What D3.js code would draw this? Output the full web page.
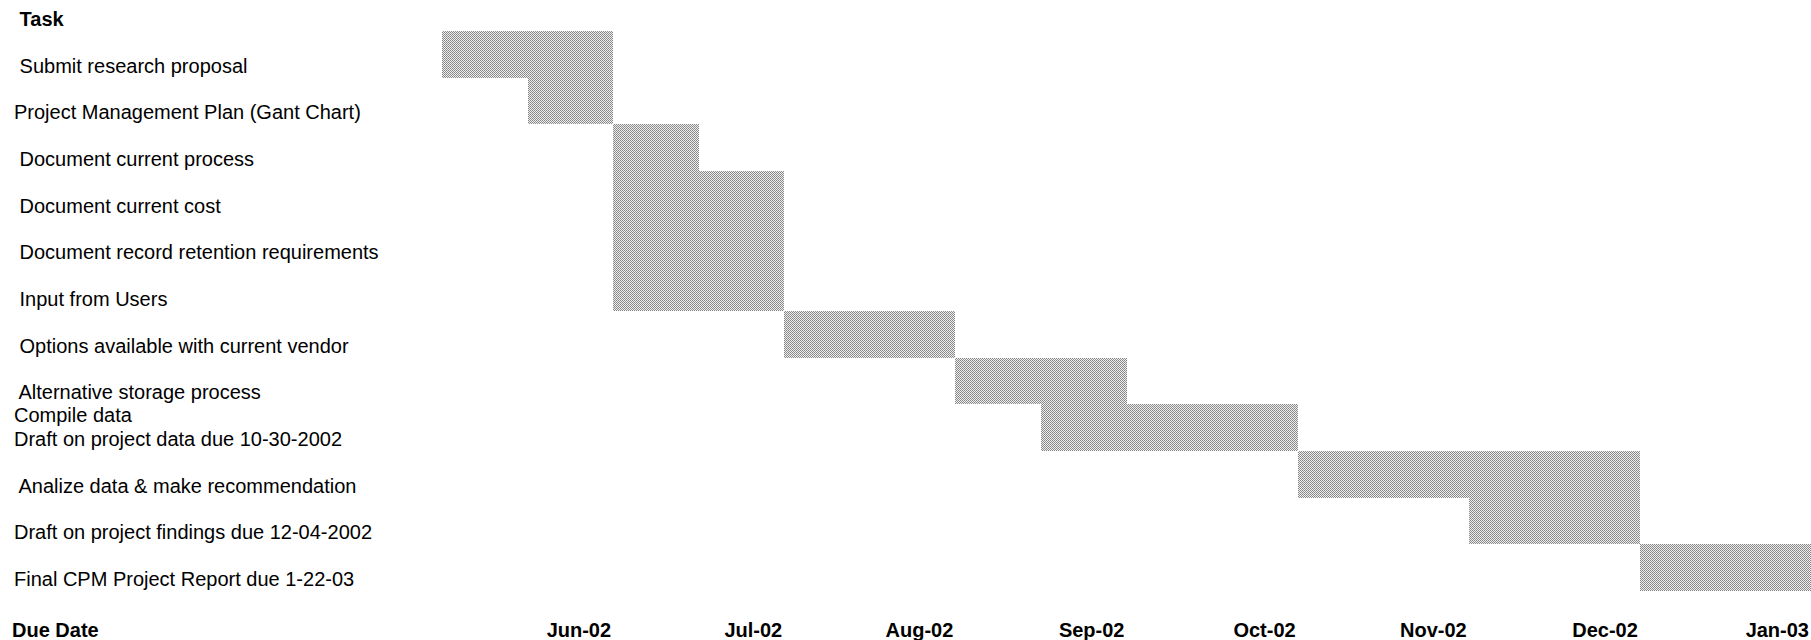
<!DOCTYPE html>
<html>
<head>
<meta charset="utf-8">
<script src="https://cdn.jsdelivr.net/npm/d3@7"></script>
<style>
  html, body { margin: 0; padding: 0; background: #fff; }
  svg { display: block; font-family: "Liberation Sans", Arial, sans-serif; }
  text { white-space: pre; fill: #000; }
</style>
</head>
<body>
<svg id="chart"></svg>
<script>
// Task names (leading spaces kept as in the source sheet)
const taskLabels = [
    [" Submit research proposal"],
    ["Project Management Plan (Gant Chart)"],
    [" Document current process"],
    [" Document current cost"],
    [" Document record retention requirements"],
    [" Input from Users"],
    [" Options available with current vendor"],
    [" Alternative storage process"],
    ["Compile data", "Draft on project data due 10-30-2002"],
    [" Analize data & make recommendation"],
    ["Draft on project findings due 12-04-2002"],
    ["Final CPM Project Report due 1-22-03"]
];

// Start / end of each bar, in months from the first column
const taskStart = [0, 0.5, 1, 1, 1, 1, 2, 3, 3.5, 5, 6, 7];
const taskEnd   = [1, 1,   1.5, 2, 2, 2, 3, 4, 5,   7, 7, 8];

// Month column labels
const months = ["Jun-02", "Jul-02", "Aug-02", "Sep-02", "Oct-02", "Nov-02", "Dec-02", "Jan-03"];

const width = 1811, height = 640;

const svg = d3.select("#chart")
    .attr("width", width)
    .attr("height", height);

// halftone-like grey fill
const defs = svg.append("defs");
const pat = defs.append("pattern")
    .attr("id", "halftone")
    .attr("patternUnits", "userSpaceOnUse")
    .attr("width", 2)
    .attr("height", 2);
pat.append("rect").attr("width", 2).attr("height", 2).attr("fill", "#eeeeee");
pat.append("rect").attr("width", 1).attr("height", 1).attr("fill", "#858585");
pat.append("rect").attr("x", 1).attr("y", 1).attr("width", 1).attr("height", 1).attr("fill", "#909090");

// scales
const x = d3.scaleLinear()
    .domain([0, months.length])
    .range([442, 1811]);

const y = d3.scaleBand()
    .domain(d3.range(taskLabels.length))
    .range([31, 591])
    .padding(0);

// bars (edges rounded to whole pixels so stacked bars meet without seams)
svg.append("g")
    .attr("shape-rendering", "crispEdges")
    .selectAll("rect")
    .data(taskLabels.map((d, i) => ({ i, start: taskStart[i], end: taskEnd[i] })))
    .enter()
    .append("rect")
    .attr("x", d => Math.round(x(d.start)))
    .attr("y", d => Math.round(y(d.i)))
    .attr("width", d => Math.round(x(d.end)) - Math.round(x(d.start)))
    .attr("height", d => Math.round(y(d.i) + y.bandwidth()) - Math.round(y(d.i)))
    .attr("fill", "url(#halftone)");

// task labels
const labels = svg.append("g")
    .attr("font-size", 20);

labels.selectAll("text")
    .data(taskLabels)
    .enter()
    .append("text")
    .attr("x", 14)
    .attr("y", (d, i) => y(i) + y.bandwidth() - 5)
    .each(function (d) {
        const t = d3.select(this);
        d.forEach((line, j) => {
            t.append("tspan")
                .attr("x", 14)
                .attr("dy", j === 0 ? -(d.length - 1) * 24.5 : 24.5)
                .text(line);
        });
    });

// headers
svg.append("text")
    .attr("x", 14)
    .attr("y", 26)
    .attr("font-size", 20)
    .attr("font-weight", "bold")
    .text(" Task");

svg.append("text")
    .attr("x", 12)
    .attr("y", 637)
    .attr("font-size", 20)
    .attr("font-weight", "bold")
    .text("Due Date");

// month labels, right aligned in each column
svg.append("g")
    .selectAll("text")
    .data(months)
    .enter()
    .append("text")
    .attr("x", (d, i) => x(i + 1) - 2)
    .attr("y", 637)
    .attr("text-anchor", "end")
    .attr("font-size", 20)
    .attr("font-weight", "bold")
    .text(d => d);
</script>
</body>
</html>
